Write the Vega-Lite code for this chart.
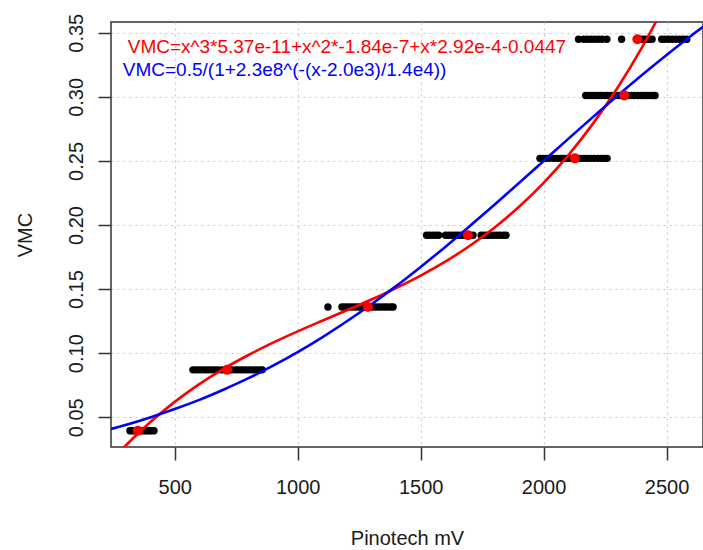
{
  "$schema": "https://vega.github.io/schema/vega-lite/v6.json",
  "width": 592,
  "height": 425,
  "autosize": {"type": "none"},
  "padding": {"left": 111, "top": 22, "right": 0, "bottom": 103},
  "background": "white",
  "config": {
    "view": {"stroke": "#333333", "strokeWidth": 1.5},
    "font": "Liberation Sans"
  },
  "datasets": {
    "obs": [
      {"x": 318, "y": 0.0395}, {"x": 326, "y": 0.0395}, {"x": 334, "y": 0.0395}, {"x": 342, "y": 0.0395}, {"x": 350, "y": 0.0395}, {"x": 358, "y": 0.0395}, {"x": 366, "y": 0.0395}, {"x": 374, "y": 0.0395}, {"x": 382, "y": 0.0395}, {"x": 390, "y": 0.0395}, {"x": 398, "y": 0.0395}, {"x": 406, "y": 0.0395}, {"x": 416, "y": 0.0395},
      {"x": 574, "y": 0.087}, {"x": 587, "y": 0.087}, {"x": 599, "y": 0.087}, {"x": 612, "y": 0.087}, {"x": 624, "y": 0.087}, {"x": 637, "y": 0.087}, {"x": 649, "y": 0.087}, {"x": 662, "y": 0.087}, {"x": 675, "y": 0.087}, {"x": 692, "y": 0.087}, {"x": 705, "y": 0.087}, {"x": 719, "y": 0.087}, {"x": 732, "y": 0.087}, {"x": 747, "y": 0.087}, {"x": 759, "y": 0.087}, {"x": 772, "y": 0.087}, {"x": 785, "y": 0.087}, {"x": 797, "y": 0.087}, {"x": 810, "y": 0.087}, {"x": 822, "y": 0.087}, {"x": 835, "y": 0.087}, {"x": 847, "y": 0.087}, {"x": 856, "y": 0.087},
      {"x": 1123, "y": 0.136}, {"x": 1180, "y": 0.136}, {"x": 1192, "y": 0.136}, {"x": 1204, "y": 0.136}, {"x": 1216, "y": 0.136}, {"x": 1229, "y": 0.136}, {"x": 1242, "y": 0.136}, {"x": 1254, "y": 0.136}, {"x": 1266, "y": 0.136}, {"x": 1279, "y": 0.136}, {"x": 1292, "y": 0.136}, {"x": 1304, "y": 0.136}, {"x": 1316, "y": 0.136}, {"x": 1329, "y": 0.136}, {"x": 1342, "y": 0.136}, {"x": 1354, "y": 0.136}, {"x": 1366, "y": 0.136}, {"x": 1379, "y": 0.136}, {"x": 1388, "y": 0.136},
      {"x": 1524, "y": 0.192}, {"x": 1536, "y": 0.192}, {"x": 1549, "y": 0.192}, {"x": 1561, "y": 0.192}, {"x": 1573, "y": 0.192}, {"x": 1601, "y": 0.192}, {"x": 1613, "y": 0.192}, {"x": 1626, "y": 0.192}, {"x": 1639, "y": 0.192}, {"x": 1651, "y": 0.192}, {"x": 1663, "y": 0.192}, {"x": 1676, "y": 0.192}, {"x": 1691, "y": 0.192}, {"x": 1701, "y": 0.192}, {"x": 1713, "y": 0.192}, {"x": 1746, "y": 0.192}, {"x": 1759, "y": 0.192}, {"x": 1771, "y": 0.192}, {"x": 1783, "y": 0.192}, {"x": 1796, "y": 0.192}, {"x": 1809, "y": 0.192}, {"x": 1821, "y": 0.192}, {"x": 1836, "y": 0.192}, {"x": 1847, "y": 0.192},
      {"x": 1985, "y": 0.252}, {"x": 1997, "y": 0.252}, {"x": 2010, "y": 0.252}, {"x": 2022, "y": 0.252}, {"x": 2040, "y": 0.252}, {"x": 2055, "y": 0.252}, {"x": 2067, "y": 0.252}, {"x": 2080, "y": 0.252}, {"x": 2095, "y": 0.252}, {"x": 2110, "y": 0.252}, {"x": 2125, "y": 0.252}, {"x": 2140, "y": 0.252}, {"x": 2152, "y": 0.252}, {"x": 2165, "y": 0.252}, {"x": 2178, "y": 0.252}, {"x": 2190, "y": 0.252}, {"x": 2205, "y": 0.252}, {"x": 2220, "y": 0.252}, {"x": 2234, "y": 0.252}, {"x": 2247, "y": 0.252}, {"x": 2258, "y": 0.252},
      {"x": 2171, "y": 0.301}, {"x": 2184, "y": 0.301}, {"x": 2197, "y": 0.301}, {"x": 2209, "y": 0.301}, {"x": 2221, "y": 0.301}, {"x": 2234, "y": 0.301}, {"x": 2249, "y": 0.301}, {"x": 2261, "y": 0.301}, {"x": 2274, "y": 0.301}, {"x": 2289, "y": 0.301}, {"x": 2304, "y": 0.301}, {"x": 2317, "y": 0.301}, {"x": 2329, "y": 0.301}, {"x": 2344, "y": 0.301}, {"x": 2357, "y": 0.301}, {"x": 2369, "y": 0.301}, {"x": 2384, "y": 0.301}, {"x": 2397, "y": 0.301}, {"x": 2409, "y": 0.301}, {"x": 2421, "y": 0.301}, {"x": 2434, "y": 0.301}, {"x": 2444, "y": 0.301}, {"x": 2453, "y": 0.301},
      {"x": 2142, "y": 0.345}, {"x": 2163, "y": 0.345}, {"x": 2178, "y": 0.345}, {"x": 2193, "y": 0.345}, {"x": 2208, "y": 0.345}, {"x": 2223, "y": 0.345}, {"x": 2238, "y": 0.345}, {"x": 2257, "y": 0.345}, {"x": 2317, "y": 0.345}, {"x": 2392, "y": 0.345}, {"x": 2403, "y": 0.345}, {"x": 2416, "y": 0.345}, {"x": 2428, "y": 0.345}, {"x": 2441, "y": 0.345}, {"x": 2480, "y": 0.345}, {"x": 2493, "y": 0.345}, {"x": 2508, "y": 0.345}, {"x": 2523, "y": 0.345}, {"x": 2538, "y": 0.345}, {"x": 2553, "y": 0.345}, {"x": 2568, "y": 0.345}, {"x": 2582, "y": 0.345}
    ],
    "means": [
      {"x": 350, "y": 0.0395}, {"x": 713, "y": 0.087}, {"x": 1286, "y": 0.136}, {"x": 1692, "y": 0.192}, {"x": 2127, "y": 0.252}, {"x": 2328, "y": 0.301}, {"x": 2381, "y": 0.345}
    ],
    "cubic": [
      {"x": 250, "y": 0.0176}, {"x": 300, "y": 0.0278}, {"x": 400, "y": 0.0461}, {"x": 500, "y": 0.0620}, {"x": 600, "y": 0.0759}, {"x": 700, "y": 0.0880}, {"x": 800, "y": 0.0986}, {"x": 900, "y": 0.1082}, {"x": 1000, "y": 0.1170}, {"x": 1100, "y": 0.1253}, {"x": 1200, "y": 0.1335}, {"x": 1300, "y": 0.1419}, {"x": 1400, "y": 0.1508}, {"x": 1500, "y": 0.1605}, {"x": 1600, "y": 0.1714}, {"x": 1700, "y": 0.1838}, {"x": 1800, "y": 0.1979}, {"x": 1900, "y": 0.2142}, {"x": 2000, "y": 0.2329}, {"x": 2100, "y": 0.2544}, {"x": 2200, "y": 0.2789}, {"x": 2300, "y": 0.3069}, {"x": 2400, "y": 0.3386}, {"x": 2500, "y": 0.3744}
    ],
    "logistic": [
      {"x": 200, "y": 0.0388}, {"x": 300, "y": 0.0440}, {"x": 400, "y": 0.0499}, {"x": 500, "y": 0.0564}, {"x": 600, "y": 0.0636}, {"x": 700, "y": 0.0717}, {"x": 800, "y": 0.0805}, {"x": 900, "y": 0.0903}, {"x": 1000, "y": 0.1009}, {"x": 1100, "y": 0.1124}, {"x": 1200, "y": 0.1249}, {"x": 1300, "y": 0.1382}, {"x": 1400, "y": 0.1523}, {"x": 1500, "y": 0.1673}, {"x": 1600, "y": 0.1829}, {"x": 1700, "y": 0.1992}, {"x": 1800, "y": 0.2158}, {"x": 1900, "y": 0.2328}, {"x": 2000, "y": 0.2500}, {"x": 2100, "y": 0.2672}, {"x": 2200, "y": 0.2842}, {"x": 2300, "y": 0.3009}, {"x": 2400, "y": 0.3171}, {"x": 2500, "y": 0.3327}, {"x": 2600, "y": 0.3477}, {"x": 2700, "y": 0.3618}
    ],
    "labels": [
      {"x": 309, "y": 0.3391, "text": "VMC=x^3*5.37e-11+x^2*-1.84e-7+x*2.92e-4-0.0447", "col": "#FF0000"},
      {"x": 289, "y": 0.3209, "text": "VMC=0.5/(1+2.3e8^(-(x-2.0e3)/1.4e4))", "col": "#0000FF"}
    ]
  },
  "encoding": {
    "x": {
      "field": "x", "type": "quantitative",
      "scale": {"domain": [241, 2648], "nice": false, "zero": false},
      "axis": {
        "values": [500, 1000, 1500, 2000, 2500], "format": "d", "title": "Pinotech mV",
        "domain": false, "grid": true, "gridDash": [2, 4], "gridColor": "#c8c8c8", "gridWidth": 1.2,
        "tickSize": 13, "tickWidth": 1.5, "tickColor": "#333333",
        "labelFontSize": 20, "labelColor": "#1a1a1a", "labelPadding": 17, "labelFlush": false, "labelOverlap": false,
        "titleFontSize": 20, "titleFontWeight": "normal", "titleColor": "#1a1a1a", "titlePadding": 31
      }
    },
    "y": {
      "field": "y", "type": "quantitative",
      "scale": {"domain": [0.0268, 0.3584], "nice": false, "zero": false},
      "axis": {
        "values": [0.05, 0.1, 0.15, 0.2, 0.25, 0.3, 0.35], "format": ".2f", "title": "VMC",
        "domain": false, "grid": true, "gridDash": [2, 4], "gridColor": "#c8c8c8", "gridWidth": 1.2,
        "tickSize": 13, "tickWidth": 1.5, "tickColor": "#333333",
        "labelFontSize": 20, "labelColor": "#1a1a1a", "labelAngle": 270, "labelAlign": "center", "labelBaseline": "bottom",
        "labelPadding": 12, "labelFlush": false, "labelOverlap": false,
        "titleFontSize": 20, "titleFontWeight": "normal", "titleColor": "#1a1a1a", "titlePadding": 31
      }
    }
  },
  "layer": [
    {"data": {"name": "obs"}, "mark": {"type": "circle", "color": "black", "opacity": 1, "size": 55}},
    {"data": {"name": "cubic"}, "mark": {"type": "line", "color": "#FF0000", "strokeWidth": 2.6, "clip": true, "interpolate": "monotone"}},
    {"data": {"name": "logistic"}, "mark": {"type": "line", "color": "#0000FF", "strokeWidth": 2.6, "clip": true, "interpolate": "monotone"}},
    {"data": {"name": "means"}, "mark": {"type": "circle", "color": "#FF0000", "opacity": 1, "size": 100}},
    {"data": {"name": "labels"}, "mark": {"type": "text", "align": "left", "baseline": "middle", "fontSize": 19, "font": "Liberation Sans"},
     "encoding": {"text": {"field": "text"}, "color": {"field": "col", "type": "nominal", "scale": null}}}
  ]
}
